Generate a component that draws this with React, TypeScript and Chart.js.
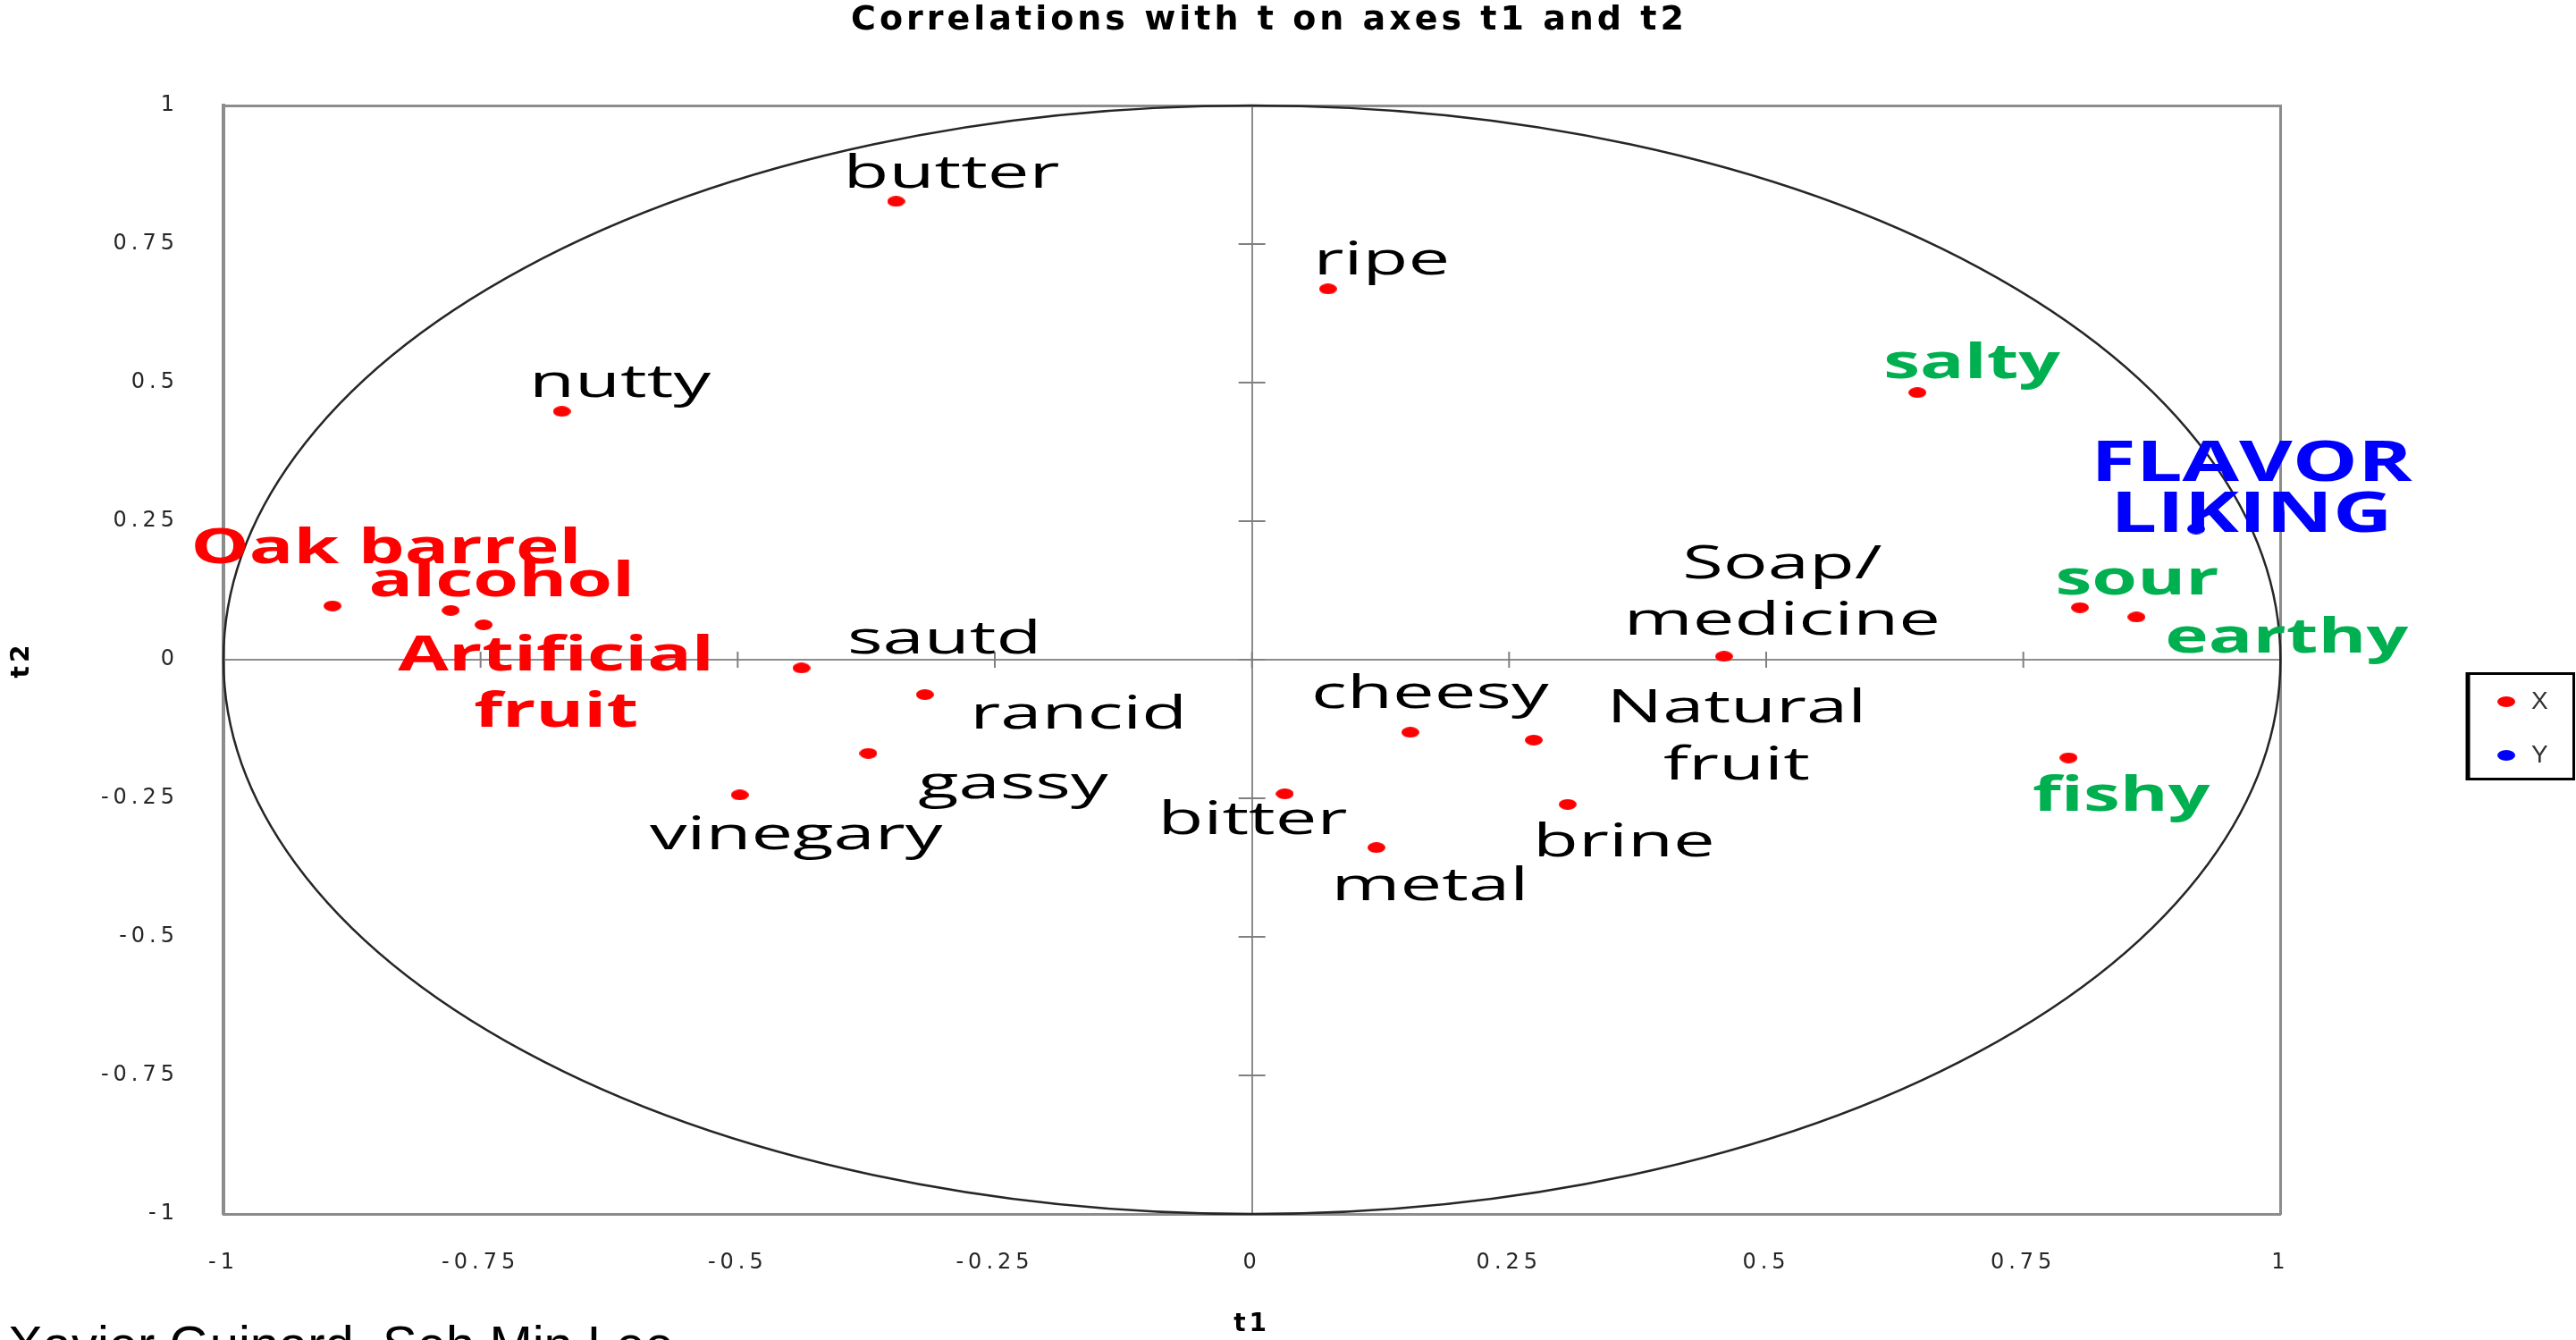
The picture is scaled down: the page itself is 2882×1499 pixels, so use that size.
import { useEffect, useRef } from 'react';
import { Chart, registerables } from 'chart.js';

Chart.register(...registerables);

// ---------- data ----------
const chartTitle = 'Correlations with t on axes t1 and t2';
const seriesLabels = ['X', 'Y'];
const attributeNames = [
  'butter', 'ripe', 'nutty', 'salty', 'Oak barrel', 'alcohol', 'Artificial\nfruit',
  'sautd', 'rancid', 'gassy', 'vinegary', 'Soap/\nmedicine', 'sour', 'earthy',
  'cheesy', 'Natural\nfruit', 'bitter', 'metal', 'brine', 'fishy',
];
const attributeT1 = [
  -0.346, 0.074, -0.671, 0.647, -0.894, -0.779, -0.747,
  -0.438, -0.318, -0.373, -0.498, 0.459, 0.805, 0.860,
  0.154, 0.274, 0.032, 0.121, 0.307, 0.794,
];
const attributeT2 = [
  0.827, 0.669, 0.448, 0.482, 0.097, 0.089, 0.063,
  -0.015, -0.063, -0.169, -0.244, 0.006, 0.094, 0.077,
  -0.131, -0.145, -0.242, -0.339, -0.261, -0.177,
];
const responseNames = ['FLAVOR\nLIKING'];
const responseT1 = [0.918];
const responseT2 = [0.236];
const axisTicks = [-1, -0.75, -0.5, -0.25, 0, 0.25, 0.5, 0.75, 1];
const authorNote = 'Xavier Guinard, Seh Min Lee';

// ---------- label layout (pixel offsets from each point, styles) ----------
type Kind = 'plain' | 'red' | 'green' | 'blue';
const LABEL_LAYOUT: Record<string, { dx: number; dy: number; gap?: number; kind: Kind }> = {
  'butter': { dx: 62, dy: -15, kind: 'plain' },
  'ripe': { dx: 60, dy: -16, kind: 'plain' },
  'nutty': { dx: 65, dy: -16, kind: 'plain' },
  'salty': { dx: 61, dy: -16, kind: 'green' },
  'Oak barrel': { dx: 60, dy: -48, kind: 'red' },
  'alcohol': { dx: 57, dy: -16, kind: 'red' },
  'Artificial\nfruit': { dx: 81, dy: 51, gap: 63, kind: 'red' },
  'sautd': { dx: 160, dy: -16, kind: 'plain' },
  'rancid': { dx: 172, dy: 38, kind: 'plain' },
  'gassy': { dx: 162, dy: 50, kind: 'plain' },
  'vinegary': { dx: 63, dy: 61, kind: 'plain' },
  'Soap/\nmedicine': { dx: 65, dy: -87, gap: 63, kind: 'plain' },
  'sour': { dx: 64, dy: -15, kind: 'green' },
  'earthy': { dx: 168, dy: 40, kind: 'green' },
  'cheesy': { dx: 22, dy: -27, kind: 'plain' },
  'Natural\nfruit': { dx: 227, dy: -20, gap: 64, kind: 'plain' },
  'bitter': { dx: -36, dy: 45, kind: 'plain' },
  'metal': { dx: 60, dy: 59, kind: 'plain' },
  'brine': { dx: 63, dy: 58, kind: 'plain' },
  'fishy': { dx: 59, dy: 59, kind: 'green' },
  'FLAVOR\nLIKING': { dx: 62, dy: -54, gap: 57, kind: 'blue' },
};
const KIND_STYLE: Record<Kind, { color: string; weight: number; size: number; stretch: number }> = {
  plain: { color: '#000000', weight: 400, size: 52, stretch: 1.6 },
  red: { color: '#FF0000', weight: 700, size: 53, stretch: 1.55 },
  green: { color: '#00B050', weight: 700, size: 53, stretch: 1.55 },
  blue: { color: '#0000FF', weight: 700, size: 63, stretch: 1.46 },
};

function makeDot(color: string) {
  const c = document.createElement('canvas');
  c.width = 20;
  c.height = 12;
  const g = c.getContext('2d')!;
  g.fillStyle = color;
  g.beginPath();
  g.ellipse(10, 6, 10, 6, 0, 0, Math.PI * 2);
  g.fill();
  return c;
}

const corrPlugin = {
  id: 'corrCircle',
  afterLayout(chart: any) {
    const l = chart.legend;
    if (!l) return;
    const w = l.width;
    l.left = 2758;
    l.right = l.left + w;
    const colH = (l.columnSizes && l.columnSizes[0] && l.columnSizes[0].height) || 120;
    const curY = (l.top + 32 + l.bottom - colH) / 2;
    const d = 771 - curY;
    l.top += d;
    l.bottom += d;
  },
  beforeDraw(chart: any) {
    (chart.ctx as any).letterSpacing = '4px';
  },
  beforeDatasetsDraw(chart: any) {
    const { ctx, scales } = chart;
    const x = scales.x;
    const y = scales.y;
    ctx.save();
    (ctx as any).letterSpacing = '0px';
    const cx = x.getPixelForValue(0);
    const cy = y.getPixelForValue(0);
    const rx = x.getPixelForValue(1) - cx;
    const ry = cy - y.getPixelForValue(1);
    ctx.strokeStyle = '#808080';
    ctx.lineWidth = 2;
    ctx.beginPath();
    for (const v of axisTicks) {
      const px = x.getPixelForValue(v);
      ctx.moveTo(px, cy - 9);
      ctx.lineTo(px, cy + 9);
      const py = y.getPixelForValue(v);
      ctx.moveTo(cx - 15, py);
      ctx.lineTo(cx + 15, py);
    }
    ctx.stroke();
    ctx.strokeStyle = '#262626';
    ctx.lineWidth = 2.5;
    ctx.beginPath();
    ctx.ellipse(cx, cy, rx, ry, 0, 0, Math.PI * 2);
    ctx.stroke();
    ctx.restore();
  },
  afterDatasetsDraw(chart: any) {
    const ctx = chart.ctx;
    ctx.save();
    (ctx as any).letterSpacing = '0px';
    ctx.textAlign = 'center';
    ctx.textBaseline = 'alphabetic';
    const drawLabels = (meta: any, names: string[]) => {
      meta.data.forEach((pt: any, i: number) => {
        const name = names[i];
        const st = LABEL_LAYOUT[name];
        if (!st) return;
        const k = KIND_STYLE[st.kind];
        ctx.font = `${k.weight} ${k.size}px "Open Sans"`;
        ctx.fillStyle = k.color;
        name.split('\n').forEach((line, j) => {
          ctx.save();
          ctx.translate(pt.x + st.dx, pt.y + st.dy + j * (st.gap ?? 63));
          ctx.scale(k.stretch, 1);
          ctx.fillText(line, 0, 0);
          ctx.restore();
        });
      });
    };
    drawLabels(chart.getDatasetMeta(0), attributeNames);
    drawLabels(chart.getDatasetMeta(1), responseNames);
    ctx.restore();
    (ctx as any).letterSpacing = '5px';
  },
  afterDraw(chart: any) {
    const ctx = chart.ctx;
    (ctx as any).letterSpacing = '0px';
    ctx.save();
    // legend frame
    ctx.strokeStyle = '#000000';
    ctx.lineWidth = 3;
    ctx.strokeRect(2761.5, 753.5, 118, 118);
    ctx.lineWidth = 5;
    ctx.beginPath();
    ctx.moveTo(2761, 752);
    ctx.lineTo(2761, 873);
    ctx.stroke();
    // author note
    ctx.font = '58px "Liberation Sans"';
    ctx.fillStyle = '#000000';
    ctx.textAlign = 'left';
    ctx.textBaseline = 'alphabetic';
    ctx.fillText(authorNote, 9, 1524);
    ctx.restore();
  },
};

export default function App() {
  const ref = useRef<HTMLCanvasElement | null>(null);

  useEffect(() => {
    document.body.style.margin = '0';
    document.body.style.overflow = 'hidden';
    const canvas = ref.current;
    if (!canvas) return;
    const redDot = makeDot('#FF0000');
    const blueDot = makeDot('#0000FF');
    const tickFont = { family: 'DejaVu Sans', size: 24 };
    const gridColor = (c: any) => (c.tick && c.tick.value === 0 ? '#8c8c8c' : 'rgba(0,0,0,0)');
    const setTicks = (s: any) => {
      s.ticks = axisTicks.map((v) => ({ value: v }));
    };

    const chart = new Chart(canvas, {
      type: 'scatter',
      data: {
        datasets: [
          {
            label: seriesLabels[0],
            data: attributeT1.map((v, i) => ({ x: v, y: attributeT2[i] })),
            pointStyle: redDot as any,
            pointRadius: 6,
            pointHoverRadius: 6,
            backgroundColor: '#FF0000',
            borderColor: '#FF0000',
          },
          {
            label: seriesLabels[1],
            data: responseT1.map((v, i) => ({ x: v, y: responseT2[i] })),
            pointStyle: blueDot as any,
            pointRadius: 6,
            pointHoverRadius: 6,
            backgroundColor: '#0000FF',
            borderColor: '#0000FF',
          },
        ],
      },
      options: {
        responsive: false,
        animation: false,
        events: [],
        layout: { padding: { top: 0, right: 42, bottom: 0, left: 0 } },
        plugins: {
          title: {
            display: true,
            text: chartTitle,
            color: '#000000',
            font: { family: 'DejaVu Sans', size: 38, weight: 'bold' },
            padding: { top: 0, bottom: 72.4 },
          },
          legend: {
            display: true,
            position: 'right',
            labels: {
              usePointStyle: true,
              boxWidth: 28,
              padding: 32,
              color: '#333333',
              font: { family: 'Liberation Sans', size: 28 },
            },
          },
          tooltip: { enabled: false },
        },
        scales: {
          x: {
            type: 'linear',
            position: 'bottom',
            min: -1,
            max: 1,
            afterBuildTicks: setTicks,
            afterFit: (s: any) => { s.height = 141; },
            ticks: {
              autoSkip: false,
              maxRotation: 0,
              padding: 40,
              z: 1,
              color: '#262626',
              font: tickFont,
              callback: (v: any) => String(v),
            },
            grid: { drawTicks: false, color: gridColor, lineWidth: 2 },
            border: { display: true, color: '#8c8c8c', width: 3 },
            title: {
              display: true,
              text: 't1',
              color: '#000000',
              font: { family: 'DejaVu Sans', size: 28, weight: 'bold' },
              padding: { top: 0, bottom: 0 },
            },
          },
          y: {
            type: 'linear',
            position: 'left',
            min: -1,
            max: 1,
            afterBuildTicks: setTicks,
            afterFit: (s: any) => { s.width = 250; },
            ticks: {
              padding: 50,
              z: 1,
              color: '#262626',
              font: tickFont,
              callback: (v: any) => String(v),
            },
            grid: { drawTicks: false, color: gridColor, lineWidth: 2 },
            border: { display: true, color: '#8c8c8c', width: 4 },
            title: {
              display: true,
              text: 't2',
              color: '#000000',
              font: { family: 'DejaVu Sans', size: 28, weight: 'bold' },
              padding: { top: 8, bottom: 0 },
            },
          },
          x2: {
            type: 'linear',
            position: 'top',
            min: -1,
            max: 1,
            afterFit: (s: any) => { s.height = 0; },
            ticks: { display: false },
            grid: { display: false, drawTicks: false },
            border: { display: true, color: '#8c8c8c', width: 3 },
          },
          y2: {
            type: 'linear',
            position: 'right',
            min: -1,
            max: 1,
            afterFit: (s: any) => { s.width = 186; },
            ticks: { display: false },
            grid: { display: false, drawTicks: false },
            border: { display: true, color: '#8c8c8c', width: 3 },
          },
        },
      } as any,
      plugins: [corrPlugin as any],
    });

    return () => {
      chart.destroy();
    };
  }, []);

  return (
    <canvas
      ref={ref}
      width={2882}
      height={1499}
      style={{ display: 'block', width: '2882px', height: '1499px' }}
    />
  );
}
